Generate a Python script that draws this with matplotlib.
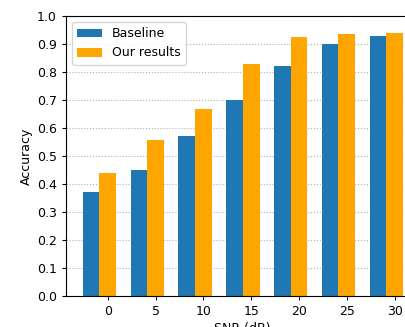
import numpy as np
import matplotlib
matplotlib.use("Agg")
import matplotlib.pyplot as plt

snr = [0, 5, 10, 15, 20, 25, 30]
baseline = [0.37, 0.45, 0.57, 0.70, 0.82, 0.90, 0.93]
ours = [0.44, 0.556, 0.668, 0.829, 0.926, 0.937, 0.941]

plt.rcParams['font.size'] = 9
plt.rcParams['xtick.major.size'] = 3.2
plt.rcParams['ytick.major.size'] = 3.2

x = np.arange(len(snr))
width = 0.35

fig = plt.figure(figsize=(4.06, 3.27), dpi=100)
ax = fig.add_axes([66/406, 31/327, 353/406, 280/327])

ax.bar(x - width, baseline, width, label='Baseline', color='#1f77b4', zorder=2)
ax.bar(x, ours, width, label='Our results', color='orange', zorder=2)

ax.set_xticks(x)
ax.set_xticklabels([str(s) for s in snr])
ax.set_ylim(0, 1.0)
ax.set_yticks(np.arange(0, 1.01, 0.1))
ax.set_xlim(-0.875, 6.51)
ax.yaxis.grid(True, linestyle=':', color='#b0b0b0', zorder=0)
ax.set_xlabel('SNR (dB)', labelpad=3)
ax.set_ylabel('Accuracy', labelpad=3)
ax.legend(loc='upper left')

fig.savefig("out.png", dpi=100)
